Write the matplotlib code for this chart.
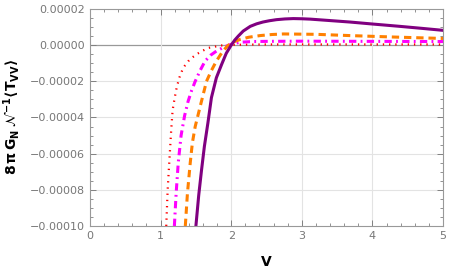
import matplotlib
matplotlib.use('Agg')
import matplotlib.pyplot as plt
from matplotlib.ticker import MultipleLocator, FuncFormatter

# purple solid (values in units of 1e-5)
v_purple = [1.50, 1.54, 1.58, 1.62, 1.67, 1.72, 1.79, 1.865, 1.93, 2.0, 2.05, 2.1, 2.17, 2.27, 2.36, 2.45, 2.54, 2.64, 2.76, 2.88, 3.0, 3.12, 3.4, 3.68, 4.0, 4.39, 4.7, 5.0]
y_purple = [-10.0, -8.3, -6.9, -5.6, -4.3, -2.9, -1.8, -1.06, -0.45, 0.0, 0.28, 0.5, 0.78, 1.04, 1.18, 1.28, 1.35, 1.41, 1.45, 1.47, 1.46, 1.44, 1.36, 1.28, 1.17, 1.04, 0.93, 0.82]

# orange dashed
v_orange = [1.35, 1.38, 1.42, 1.45, 1.49, 1.56, 1.65, 1.72, 1.79, 1.87, 1.945, 2.0, 2.06, 2.12, 2.25, 2.41, 2.58, 2.74, 3.2, 3.68, 4.3, 5.0]
y_orange = [-10.0, -8.2, -6.5, -5.4, -4.5, -3.4, -2.0, -1.4, -0.88, -0.4, -0.05, 0.1, 0.22, 0.31, 0.44, 0.53, 0.59, 0.62, 0.6, 0.53, 0.45, 0.37]

# magenta dash-dot
v_magenta = [1.195, 1.22, 1.25, 1.29, 1.34, 1.39, 1.44, 1.49, 1.56, 1.63, 1.71, 1.79, 1.9, 2.0, 2.12, 2.3, 2.5, 3.0, 4.0, 5.0]
y_magenta = [-10.0, -8.2, -6.5, -5.0, -3.9, -3.1, -2.5, -2.0, -1.4, -0.88, -0.55, -0.33, -0.1, 0.05, 0.16, 0.2, 0.21, 0.22, 0.21, 0.2]

# red dotted
v_red = [1.08, 1.10, 1.13, 1.15, 1.17, 1.20, 1.23, 1.27, 1.32, 1.41, 1.51, 1.60, 1.68, 1.85, 2.0, 2.5, 5.0]
y_red = [-10.0, -8.0, -6.0, -4.7, -3.6, -2.9, -2.3, -1.75, -1.25, -0.8, -0.5, -0.3, -0.15, -0.02, 0.02, 0.04, 0.04]

scale = 1e-5
grey = '#808080'

fig = plt.figure(figsize=(4.49, 2.79), dpi=100)
ax = fig.add_axes([90/449, 1-226/279, 353/449, 217/279])

ax.plot(v_red, [y*scale for y in y_red], color='#ff0000', lw=1.6, linestyle=(0, (0.6, 2.2)))
ax.plot(v_magenta, [y*scale for y in y_magenta], color='#ff00ff', lw=2.2, linestyle=(0, (2.4, 1.4, 0.6, 1.4)))
ax.plot(v_orange, [y*scale for y in y_orange], color='#ff8000', lw=2.2, linestyle=(0, (2.4, 1.6)))
ax.plot(v_purple, [y*scale for y in y_purple], color='#800080', lw=2.2)

ax.set_xlim(0, 5)
ax.set_ylim(-0.0001, 0.00002)
ax.axhline(0, color='#999999', lw=0.9, zorder=0)
for xv in [1, 2, 3, 4]:
    ax.axvline(xv, color='#e3e3e3', lw=0.8, zorder=0)
for yv in [-0.00002, -0.00004, -0.00006, -0.00008]:
    ax.axhline(yv, color='#e3e3e3', lw=0.8, zorder=0)

ax.xaxis.set_major_locator(MultipleLocator(1))
ax.xaxis.set_minor_locator(MultipleLocator(0.2))
ax.yaxis.set_major_locator(MultipleLocator(0.00002))
ax.yaxis.set_minor_locator(MultipleLocator(0.000005))
ax.yaxis.set_major_formatter(FuncFormatter(lambda v, p: ('%.5f' % v).replace('-', '\u2212') if abs(v) > 1e-12 else '0.00000'))

ax.tick_params(which='both', direction='in', top=True, right=True, colors=grey, labelcolor='#777777', labelsize=8)
ax.tick_params(which='major', length=4, width=0.7)
ax.tick_params(which='minor', length=2, width=0.6)
for s in ax.spines.values():
    s.set_color('#999999')
    s.set_linewidth(0.8)

ax.set_xlabel('V', fontsize=10, fontweight='bold', labelpad=10)
ax.set_ylabel(r'$\mathbf{8\,\pi\,G_N\;\mathcal{N}^{-1}\langle T_{VV}\rangle}$', fontsize=10, labelpad=6)

fig.savefig('out.png', dpi=100)
